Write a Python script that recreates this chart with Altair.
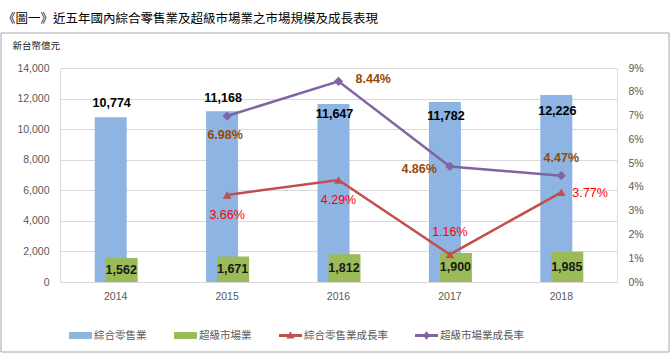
import altair as alt
import pandas as pd

# ---------------- data ----------------
years = ["2014", "2015", "2016", "2017", "2018"]
retail_sales = [10774, 11168, 11647, 11782, 12226]        # 綜合零售業 (新台幣億元)
supermarket_sales = [1562, 1671, 1812, 1900, 1985]        # 超級市場業
growth_years = ["2015", "2016", "2017", "2018"]
retail_growth = [3.66, 4.29, 1.16, 3.77]                  # 綜合零售業成長率 (%)
supermarket_growth = [6.98, 8.44, 4.86, 4.47]             # 超級市場業成長率 (%)

series_names = ["綜合零售業", "超級市場業", "綜合零售業成長率", "超級市場業成長率"]
series_colors = ["#8DB4E2", "#9BBB59", "#C0504D", "#8064A2"]

title_text = "《圖一》近五年國內綜合零售業及超級市場業之市場規模及成長表現"
unit_text = "新台幣億元"

# ---------------- styling (label placement offsets, px) ----------------
retail_label_dy = [-14, -13, 10, 14, 16]
# (dx, dy, align) for growth labels
retail_growth_lbl = [(0, 20, "center"), (0, 20, "center"), (0, -22, "center"), (11, 1, "left")]
super_growth_lbl = [(-2, 19, "center"), (17, -2, "left"), (-13, 3, "right"), (0, -18, "center")]
legend_shapes = [
    "M-1,-0.3H1V0.3H-1Z",
    "M-1,-0.3H1V0.3H-1Z",
    "M-1,-0.13H1V0.13H-1Z M-0.36,0.26L0,-0.38L0.36,0.26Z",
    "M-1,-0.13H1V0.13H-1Z M0,-0.36L0.3,0L0,0.36L-0.3,0Z",
]

W, H = 557, 214
CJK = "Noto Sans CJK TC"
LAT = "Liberation Sans"

bars = pd.DataFrame({
    "year": years * 2,
    "series": [series_names[0]] * 5 + [series_names[1]] * 5,
    "value": retail_sales + supermarket_sales,
})
lines = pd.DataFrame({
    "year": growth_years * 2,
    "series": [series_names[2]] * 4 + [series_names[3]] * 4,
    "rate": retail_growth + supermarket_growth,
})
legend_df = pd.DataFrame({"series": series_names})

x_axis = alt.Axis(title=None, labelAngle=0, domain=False, ticks=False,
                  labelFont=LAT, labelFontSize=10.5, labelColor="#595959",
                  labelPadding=9, grid=False)
x_scale = alt.Scale(domain=years, paddingInner=0, paddingOuter=0)
x_enc = alt.X("year:O", sort=years, scale=x_scale, axis=x_axis, title=None)

y_left_scale = alt.Scale(domain=[0, 14000], nice=False)
y_left_axis = alt.Axis(titleAngle=0, titleX=-48, titleY=-23,
                       titleAlign="left", titleBaseline="middle", titleFont=CJK,
                       titleFontSize=9.5, titleFontWeight="normal", titleColor="#222222",
                       values=list(range(0, 14001, 2000)), format=",d",
                       domain=False, ticks=False, labelPadding=11, labelOverlap=False,
                       labelFont=LAT, labelFontSize=10.5, labelColor="#595959",
                       grid=True, gridColor="#D9D9D9")

def yl(field):
    return alt.Y(field, scale=y_left_scale, axis=y_left_axis, title=unit_text)

base_bar = alt.Chart(bars)
blue_bars = base_bar.transform_filter(alt.datum.series == series_names[0]).mark_bar(
    size=32, xOffset=-5, color=series_colors[0]).encode(x=x_enc, y=yl("value:Q"))
green_bars = base_bar.transform_filter(alt.datum.series == series_names[1]).mark_bar(
    size=32, xOffset=6, color=series_colors[1]).encode(x=x_enc, y=yl("value:Q"))

left_layers = [blue_bars, green_bars]
for yr, dy in zip(years, retail_label_dy):
    left_layers.append(
        base_bar.transform_filter((alt.datum.series == series_names[0]) & (alt.datum.year == yr))
        .mark_text(font=LAT, fontSize=12.5, fontWeight="bold", color="#000000",
                   dx=-4, dy=dy, baseline="middle", align="center")
        .encode(x=x_enc, y=yl("value:Q"), text=alt.Text("value:Q", format=",d"))
    )
left_layers.append(
    base_bar.transform_filter(alt.datum.series == series_names[1])
    .transform_calculate(mid="datum.value / 2")
    .mark_text(font=LAT, fontSize=12.5, fontWeight="bold", color="#1A1A1A",
               dx=5.5, baseline="middle", align="center")
    .encode(x=x_enc, y=yl("mid:Q"), text=alt.Text("value:Q", format=",d"))
)
left = alt.layer(*left_layers)

y_right_scale = alt.Scale(domain=[0, 9], nice=False)
y_right_axis = alt.Axis(orient="right", values=list(range(0, 10)),
                        labelExpr="datum.value + '%'", domain=False, ticks=False,
                        labelPadding=11, labelOverlap=False, labelFont=LAT, labelFontSize=10.5,
                        labelColor="#595959", grid=False)

def yr_(field):
    return alt.Y(field, scale=y_right_scale, axis=y_right_axis, title=None)

base_line = alt.Chart(lines)
red_src = base_line.transform_filter(alt.datum.series == series_names[2])
pur_src = base_line.transform_filter(alt.datum.series == series_names[3])
red_line = red_src.mark_line(strokeWidth=2.5, color=series_colors[2]).encode(
    x=x_enc, y=yr_("rate:Q"))
pur_line = pur_src.mark_line(strokeWidth=2.5, color=series_colors[3]).encode(
    x=x_enc, y=yr_("rate:Q"))
tri = red_src.mark_point(shape="triangle-up", filled=True, size=75, opacity=1,
                         color=series_colors[2]).encode(x=x_enc, y=yr_("rate:Q"))
dia = pur_src.mark_point(shape="diamond", filled=True, size=85, opacity=1,
                         color=series_colors[3]).encode(x=x_enc, y=yr_("rate:Q"))

right_layers = [red_line, pur_line, tri, dia]
for yr, (dx, dy, al) in zip(growth_years, retail_growth_lbl):
    right_layers.append(
        red_src.transform_filter(alt.datum.year == yr)
        .transform_calculate(lbl="format(datum.rate, '.2f') + '%'")
        .mark_text(font=LAT, fontSize=12.5, color="#FF0000", dx=dx, dy=dy,
                   align=al, baseline="middle")
        .encode(x=x_enc, y=yr_("rate:Q"), text="lbl:N")
    )
for yr, (dx, dy, al) in zip(growth_years, super_growth_lbl):
    right_layers.append(
        pur_src.transform_filter(alt.datum.year == yr)
        .transform_calculate(lbl="format(datum.rate, '.2f') + '%'")
        .mark_text(font=LAT, fontSize=12.5, fontWeight="bold", color="#984807", dx=dx, dy=dy,
                   align=al, baseline="middle")
        .encode(x=x_enc, y=yr_("rate:Q"), text="lbl:N")
    )
right = alt.layer(*right_layers)

# legend-only layer (invisible marks; the legend draws the symbols)
legend = alt.Legend(
    title=None, orient="none", legendX=9, legendY=256, direction="horizontal",
    columns=4, columnPadding=27, symbolSize=529, symbolOpacity=1, symbolStrokeWidth=0,
    labelOffset=2, labelFont=CJK, labelFontSize=10.5, labelColor="#595959", labelLimit=200,
)
legend_layer = alt.Chart(legend_df).mark_point(filled=True, opacity=0, size=1).encode(
    x=alt.value(0), y=alt.value(0),
    color=alt.Color("series:N", sort=series_names,
                    scale=alt.Scale(domain=series_names, range=series_colors), legend=legend),
    shape=alt.Shape("series:N", sort=series_names,
                    scale=alt.Scale(domain=series_names, range=legend_shapes), legend=legend),
)

frame = alt.Chart(pd.DataFrame({"f": [0]})).mark_rect(
    fill="transparent", stroke="#A6A6A6", strokeWidth=1).encode(
    x=alt.value(-59), x2=alt.value(609), y=alt.value(-35), y2=alt.value(284))

chart = alt.layer(left, right, legend_layer, frame).resolve_scale(y="independent").properties(
    width=W, height=H,
    title=alt.TitleParams(title_text, anchor="start", frame="group", dx=-57, offset=7,
                          font=CJK, fontSize=12.5, fontWeight="normal", color="#000000"),
    autosize=alt.AutoSizeParams(type="none"),
    padding={"left": 60, "top": 68, "right": 53, "bottom": 71},
).configure_view(stroke=None).configure(background="white")

chart.save("out.html", embed_options={"renderer": "svg", "actions": False})
